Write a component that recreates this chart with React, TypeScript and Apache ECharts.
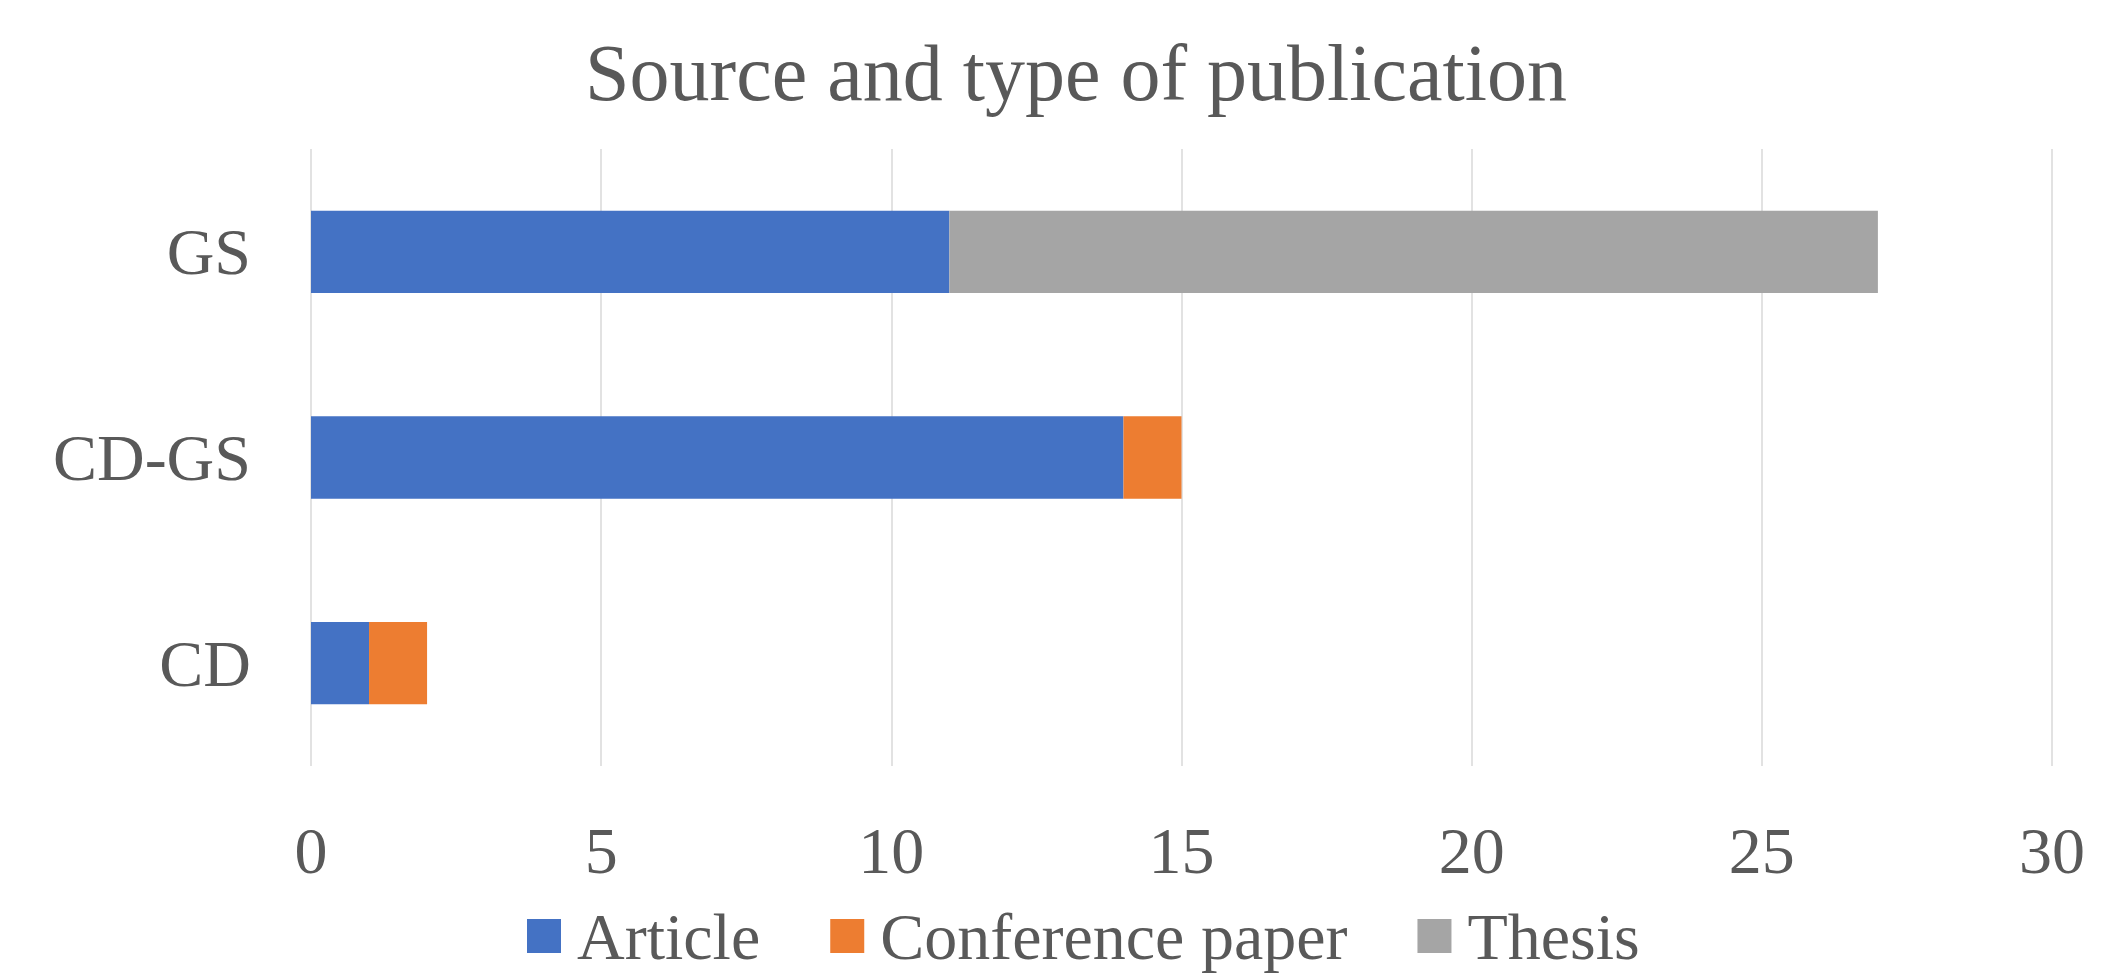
import React, { useEffect, useRef } from "react";
import * as echarts from "echarts";

const categories = ["CD", "CD-GS", "GS"];
const articleValues = [1, 14, 11];
const conferenceValues = [1, 1, 0];
const thesisValues = [0, 0, 16];
const seriesNames = ["Article", "Conference paper", "Thesis"];
const seriesColors = ["#4472C4", "#ED7D31", "#A5A5A5"];
const titleText = "Source and type of publication";

const FONT = "'Liberation Serif', 'Times New Roman', serif";
const TEXT = "#595959";

export default function App() {
  const ref = useRef<HTMLDivElement>(null);
  useEffect(() => {
    if (!ref.current) return;
    const chart = echarts.init(ref.current, null, { renderer: "svg" });
    const data = [articleValues, conferenceValues, thesisValues];
    chart.setOption({
      animation: false,
      backgroundColor: "#ffffff",
      title: {
        text: titleText,
        left: 585,
        top: 33,
        padding: 0,
        textStyle: { fontFamily: FONT, fontSize: 80, fontWeight: "normal", color: TEXT },
      },
      legend: {
        data: seriesNames,
        left: 522,
        top: 898,
        itemWidth: 34,
        itemHeight: 34,
        itemGap: 70,
        icon: "rect",
        textStyle: {
          fontFamily: FONT,
          fontSize: 66,
          lineHeight: 40,
          color: TEXT,
          padding: [0, 0, 0, 11],
        },
      },
      grid: { left: 311, right: 65, top: 149, bottom: 208, containLabel: false },
      xAxis: {
        type: "value",
        min: 0,
        max: 30,
        interval: 5,
        axisLine: { show: false },
        axisTick: { show: false },
        splitLine: { show: true, lineStyle: { color: "#D9D9D9", width: 1.5 } },
        axisLabel: { fontFamily: FONT, fontSize: 66, color: TEXT, margin: 51 },
      },
      yAxis: {
        type: "category",
        data: categories,
        axisLine: { show: false },
        axisTick: { show: false },
        axisLabel: { fontFamily: FONT, fontSize: 66, color: TEXT, margin: 60 },
      },
      series: seriesNames.map((name, i) => ({
        name,
        type: "bar",
        stack: "total",
        barCategoryGap: "60%",
        itemStyle: { color: seriesColors[i] },
        data: data[i].map((v) => (v === 0 ? null : v)),
      })),
    });
    return () => chart.dispose();
  }, []);
  return (
    <div
      ref={ref}
      style={{ position: "absolute", left: 0, top: 0, width: 2117, height: 974 }}
    />
  );
}
